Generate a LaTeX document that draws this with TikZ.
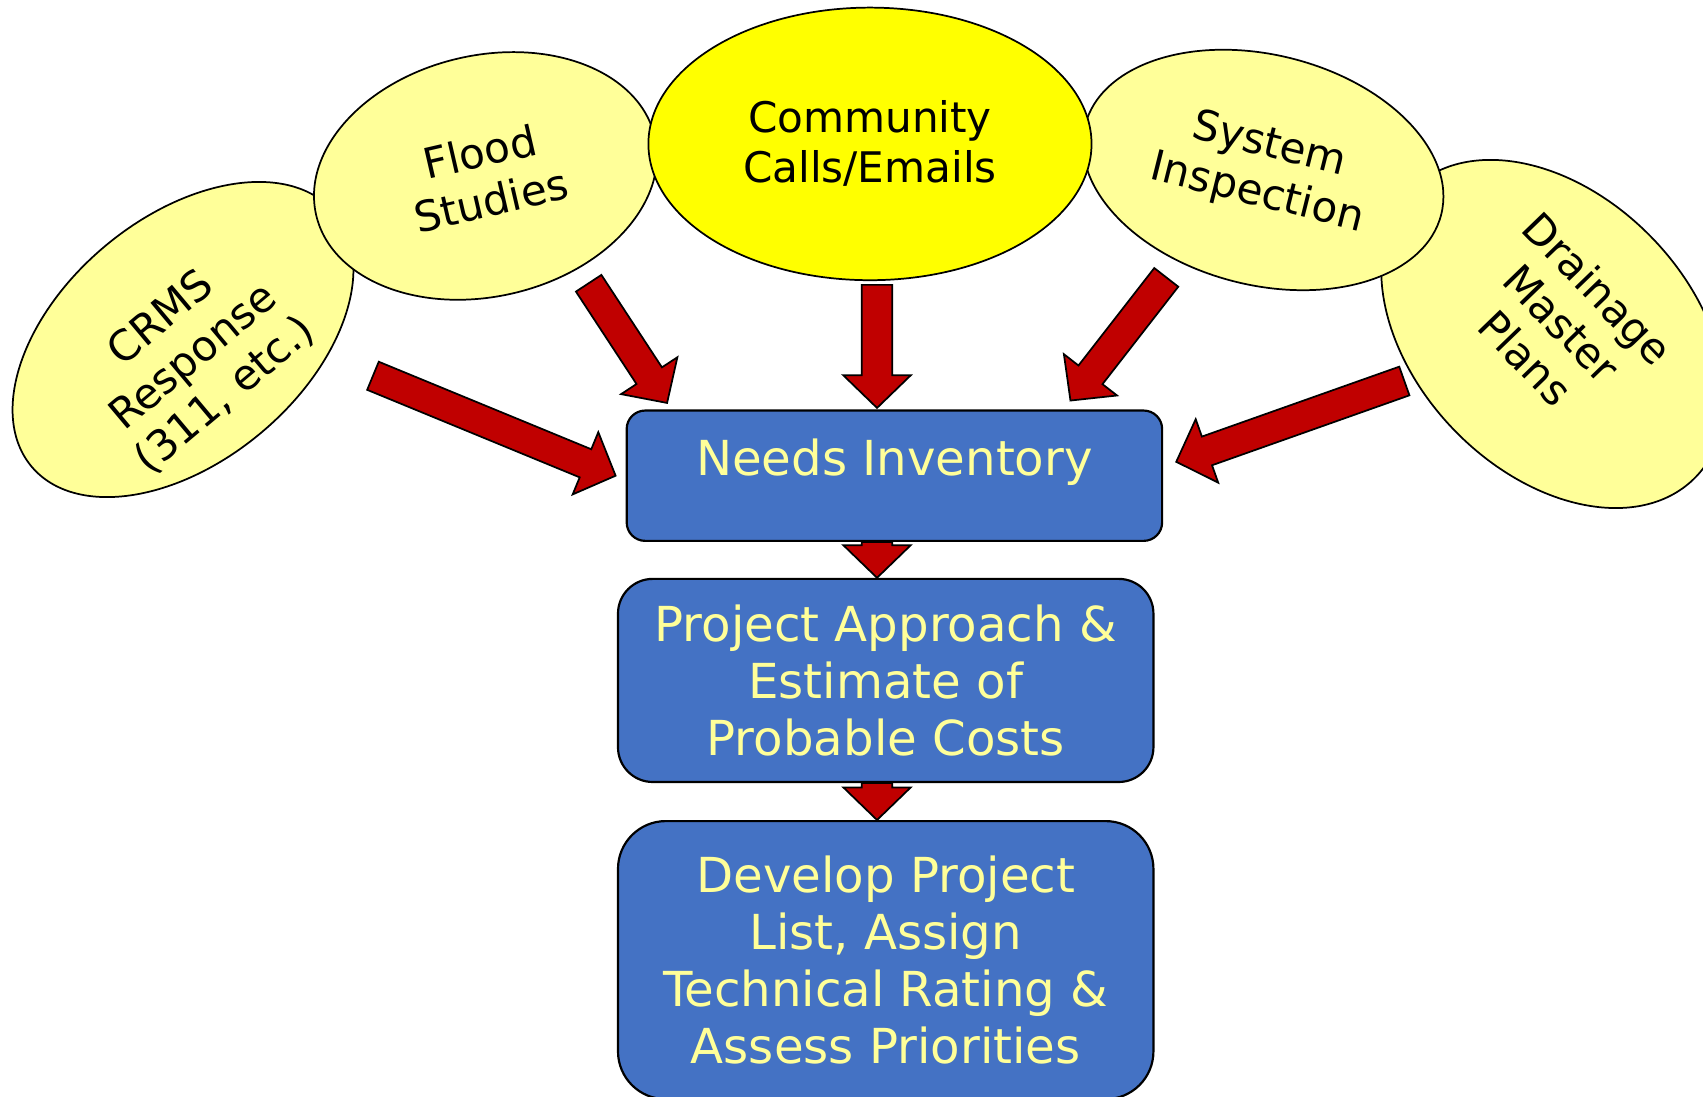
\documentclass[tikz,border=0pt]{standalone}
\usepackage{fontspec}
\setmainfont{DejaVu Sans}
\usepackage{tikz}
\usetikzlibrary{shapes.geometric, positioning, calc}
\definecolor{srcyellow}{HTML}{FFFF99}
\definecolor{hotyellow}{HTML}{FFFF00}
\definecolor{stageblue}{HTML}{4472C4}
\definecolor{stagetext}{HTML}{FFFF99}
\definecolor{arrowred}{HTML}{C00000}

% fat block arrow from #1 (tail) to #2 (tip)
\newcommand{\blockarrow}[2]{%
  \coordinate (hb) at ($(#2)!15pt!(#1)$);
  \draw[redarrow] ($(#1)!7pt!90:(#2)$) -- ($(hb)!7pt!90:(#2)$) -- ($(hb)!15.5pt!90:(#2)$) -- (#2)
    -- ($(hb)!15.5pt!-90:(#2)$) -- ($(hb)!7pt!-90:(#2)$) -- ($(#1)!7pt!-90:(#2)$) -- cycle;
}

\begin{document}
\begin{tikzpicture}[
    x=1pt, y=-1pt,
    source/.style={
      draw,
      line width=0.8pt,
      fill=srcyellow,
      ellipse,
      inner sep=0pt,
      align=center,
      font=\fontsize{19.4}{23}\selectfont
    },
    srctext/.style={
      inner sep=0pt,
      align=center,
      font=\fontsize{19.4}{23}\selectfont
    },
    stage/.style={
      draw,
      line width=1pt,
      fill=stageblue,
      text=stagetext,
      minimum width=246.5pt,
      inner sep=0pt,
      align=center,
      font=\fontsize{22.2}{26.2}\selectfont
    },
    redarrow/.style={
      draw=black,
      line width=0.8pt,
      fill=arrowred,
      line join=miter
    }
]
\useasboundingbox (0,0) rectangle (784,505);

% Sources
\node (crms) [source, minimum width=182pt, minimum height=112pt, rotate=40] at (84.25,156.3) {};
\node (crmsText) [srctext, rotate=40] at ([shift={(4.75pt,-8pt)}]crms.center) {CRMS\\Response\\(311, etc.)};
\node (flood) [source, minimum width=160pt, minimum height=111pt, rotate=13] at (223.5,81) {Flood\\Studies};
\node (drain) [source, minimum width=186pt, minimum height=127pt, rotate=-46] at (715,153.75) {};
\node (drainText) [srctext, rotate=-46] at ([shift={(4pt,5pt)}]drain.center) {Drainage\\Master\\Plans};
\node (sys) [source, minimum width=169pt, minimum height=106pt, rotate=-14] at (581.5,78.25) {System\\Inspection};
\node (comm) [source, fill=hotyellow, minimum width=204pt, minimum height=125.5pt] at (400.5,66.25) {Community\\Calls/Emails};

% Stages
\node (needs) [stage, minimum height=60pt, rounded corners=8.5pt, text height=10pt, text depth=10pt] at (411.75,219) {Needs Inventory};
\node (project) [stage, minimum height=93.5pt, rounded corners=16pt, below=16.5pt of needs, xshift=-4pt] {Project Approach \&\\Estimate of\\Probable Costs};
\node (develop) [stage, minimum height=128pt, rounded corners=22pt, below=17pt of project] {Develop Project\\List, Assign\\Technical Rating \&\\Assess Priorities};

% Arrow ends
\coordinate (crmsTail) at (171.7,173);
\coordinate (crmsTip) at ([xshift=-4.6pt]needs.west);
\coordinate (floodTail) at (271,130.4);
\coordinate (floodTip) at ([shift={(19.1pt,3pt)}]needs.north west);
\coordinate (commTail) at ([shift={(3.25pt,-1.75pt)}]comm.south);
\coordinate (commTip) at ([shift={(-8pt,0.7pt)}]needs.north);
\coordinate (sysTail) at (536.9,127.7);
\coordinate (sysTip) at ([shift={(-42.7pt,4.1pt)}]needs.north east);
\coordinate (drainTail) at (646.5,175.4);
\coordinate (drainTip) at ([shift={(6pt,6.4pt)}]needs.east);
\coordinate (needsOut) at ([xshift=-8pt]needs.south);
\coordinate (projectIn) at ([xshift=-4pt]project.north);
\coordinate (projectOut) at ([xshift=-4pt]project.south);
\coordinate (developIn) at ([xshift=-4pt]develop.north);

% Arrows into the inventory
\blockarrow{crmsTail}{crmsTip}
\blockarrow{floodTail}{floodTip}
\blockarrow{commTail}{commTip}
\blockarrow{sysTail}{sysTip}
\blockarrow{drainTail}{drainTip}

% Arrows down the stages
\blockarrow{needsOut}{projectIn}
\blockarrow{projectOut}{developIn}

\end{tikzpicture}
\end{document}
